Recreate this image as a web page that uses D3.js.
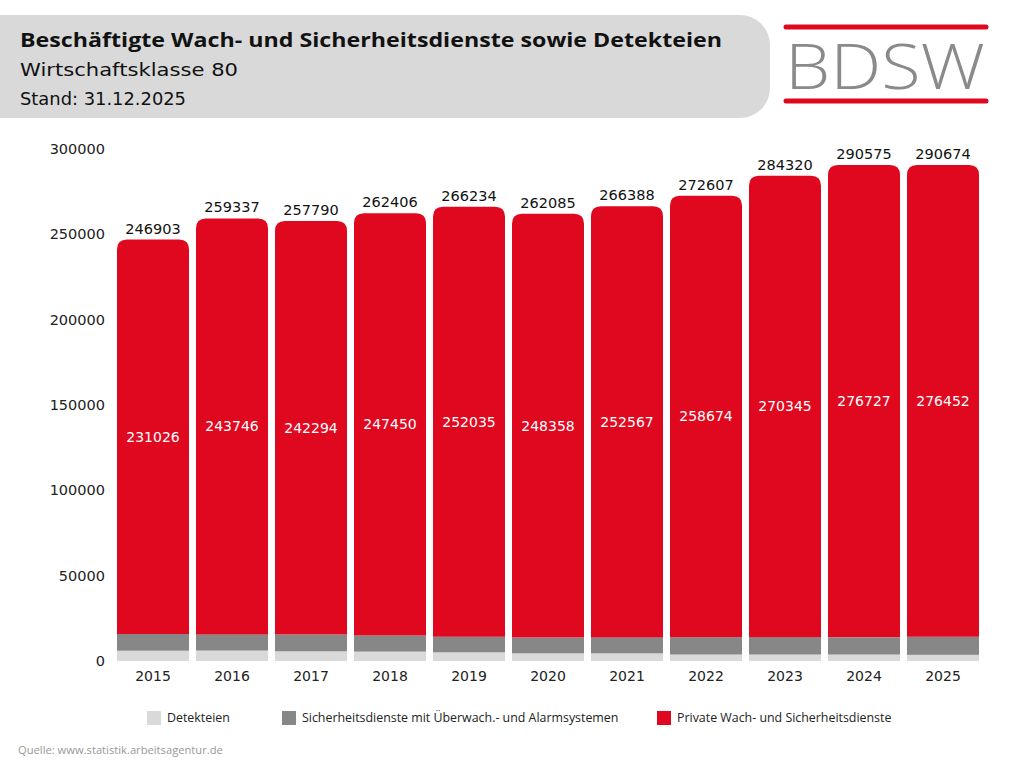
<!DOCTYPE html>
<html>
<head>
<meta charset="utf-8">
<script src="https://cdn.jsdelivr.net/npm/d3@7"></script>
<style>
  html, body { margin: 0; padding: 0; background: #fff; }
  svg { display: block; font-family: "DejaVu Sans", sans-serif; }
</style>
</head>
<body>
<svg width="1024" height="768"></svg>
<script>
// chart values
const years = ["2015","2016","2017","2018","2019","2020","2021","2022","2023","2024","2025"];
const detekteien = [6040, 6100, 5700, 5500, 5100, 4500, 4500, 3800, 3800, 3800, 3600];
const ueberwachung = [9837, 9491, 9796, 9456, 9099, 9227, 9321, 10133, 10175, 10048, 10622];
const privat = [231026, 243746, 242294, 247450, 252035, 248358, 252567, 258674, 270345, 276727, 276452];
const totals = [246903, 259337, 257790, 262406, 266234, 262085, 266388, 272607, 284320, 290575, 290674];
const yTicks = [0, 50000, 100000, 150000, 200000, 250000, 300000];
const seriesNames = ["Detekteien", "Sicherheitsdienste mit Überwach.- und Alarmsystemen", "Private Wach- und Sicherheitsdienste"];
const colors = ["#d9d9d9", "#878787", "#e0081f"];

const svg = d3.select("svg");

// header
svg.append("path")
  .attr("d", "M0,15 H740 A30,30 0 0 1 770,45 V88 A30,30 0 0 1 740,118 H0 Z")
  .attr("fill", "#d9d9d9");
svg.append("text").attr("x", 20).attr("y", 47)
  .attr("font-family", "Open Sans, sans-serif")
  .attr("font-size", 20).attr("font-weight", 700).attr("fill", "#111")
  .attr("textLength", 702).attr("lengthAdjust", "spacingAndGlyphs")
  .text("Beschäftigte Wach- und Sicherheitsdienste sowie Detekteien");
svg.append("text").attr("x", 20).attr("y", 76)
  .attr("font-size", 18).attr("fill", "#111")
  .attr("textLength", 218).attr("lengthAdjust", "spacingAndGlyphs")
  .text("Wirtschaftsklasse 80");
svg.append("text").attr("x", 20).attr("y", 105)
  .attr("font-size", 18).attr("fill", "#111")
  .attr("textLength", 166).attr("lengthAdjust", "spacingAndGlyphs")
  .text("Stand: 31.12.2025");

// logo
[27, 101].forEach(y => {
  svg.append("line").attr("x1", 786).attr("x2", 986).attr("y1", y).attr("y2", y)
    .attr("stroke", "#e0081f").attr("stroke-width", 5).attr("stroke-linecap", "round");
});
svg.append("text").attr("x", 885).attr("y", 89).attr("text-anchor", "middle")
  .attr("font-family", "Open Sans, sans-serif")
  .attr("font-size", 62).attr("font-weight", 300).attr("fill", "#8a8a8a")
  .attr("textLength", 200).attr("lengthAdjust", "spacingAndGlyphs")
  .text("BDSW");

// scales
const x = d3.scaleBand().domain(years).range([117, 979]).paddingInner(7 / 79).paddingOuter(0);
const y = d3.scaleLinear().domain([0, 300000]).range([661, 149]);

const yAxis = svg.append("g").attr("transform", "translate(105,0)")
  .call(d3.axisLeft(y).tickValues(yTicks).tickSize(0).tickPadding(0).tickFormat(d3.format("d")));
yAxis.select(".domain").remove();
yAxis.selectAll("text").attr("font-size", 14.5).attr("fill", "#222").attr("font-family", "DejaVu Sans, sans-serif");

const xAxis = svg.append("g").attr("transform", "translate(0,669)")
  .call(d3.axisBottom(x).tickSize(0).tickPadding(2));
xAxis.select(".domain").remove();
xAxis.selectAll("text").attr("font-size", 14).attr("fill", "#222").attr("font-family", "DejaVu Sans, sans-serif");

// bars
const rows = years.map((yr, i) => ({ yr, d: detekteien[i], u: ueberwachung[i], p: privat[i], t: totals[i] }));
const g = svg.append("g");
const r = 10;

g.selectAll(".det").data(rows).enter().append("rect")
  .attr("x", d => x(d.yr)).attr("width", x.bandwidth())
  .attr("y", d => y(d.d)).attr("height", d => y(0) - y(d.d))
  .attr("fill", colors[0]);
g.selectAll(".ue").data(rows).enter().append("rect")
  .attr("x", d => x(d.yr)).attr("width", x.bandwidth())
  .attr("y", d => y(d.d + d.u)).attr("height", d => y(d.d) - y(d.d + d.u))
  .attr("fill", colors[1]);
g.selectAll(".pr").data(rows).enter().append("path")
  .attr("d", d => {
    const x0 = x(d.yr), w = x.bandwidth();
    const top = y(d.d + d.u + d.p), bot = y(d.d + d.u);
    return `M${x0},${bot} V${top + r} Q${x0},${top} ${x0 + r},${top} H${x0 + w - r} Q${x0 + w},${top} ${x0 + w},${top + r} V${bot} Z`;
  })
  .attr("fill", colors[2]);

// labels
g.selectAll(".tl").data(rows).enter().append("text")
  .attr("x", d => x(d.yr) + x.bandwidth() / 2).attr("y", d => y(d.t) - 6)
  .attr("text-anchor", "middle").attr("font-size", 14.5).attr("fill", "#111")
  .text(d => d.t);
g.selectAll(".pl").data(rows).enter().append("text")
  .attr("x", d => x(d.yr) + x.bandwidth() / 2)
  .attr("y", d => (y(d.d + d.u) + y(d.t)) / 2)
  .attr("dy", "0.35em")
  .attr("text-anchor", "middle").attr("font-size", 14).attr("fill", "#fff")
  .text(d => d.p);

// legend
const legX = [147, 282, 657];
const leg = svg.append("g");
seriesNames.forEach((n, i) => {
  leg.append("rect").attr("x", legX[i]).attr("y", 711).attr("width", 14).attr("height", 14).attr("fill", colors[i]);
  leg.append("text").attr("x", legX[i] + 20).attr("y", 722)
    .attr("font-family", "Open Sans, sans-serif")
    .attr("font-size", 12.4).attr("fill", "#222").text(n);
});

// source
svg.append("text").attr("x", 18).attr("y", 754)
  .attr("font-family", "Open Sans, sans-serif")
  .attr("font-size", 11.2).attr("fill", "#999")
  .text("Quelle: www.statistik.arbeitsagentur.de");
</script>
</body>
</html>
